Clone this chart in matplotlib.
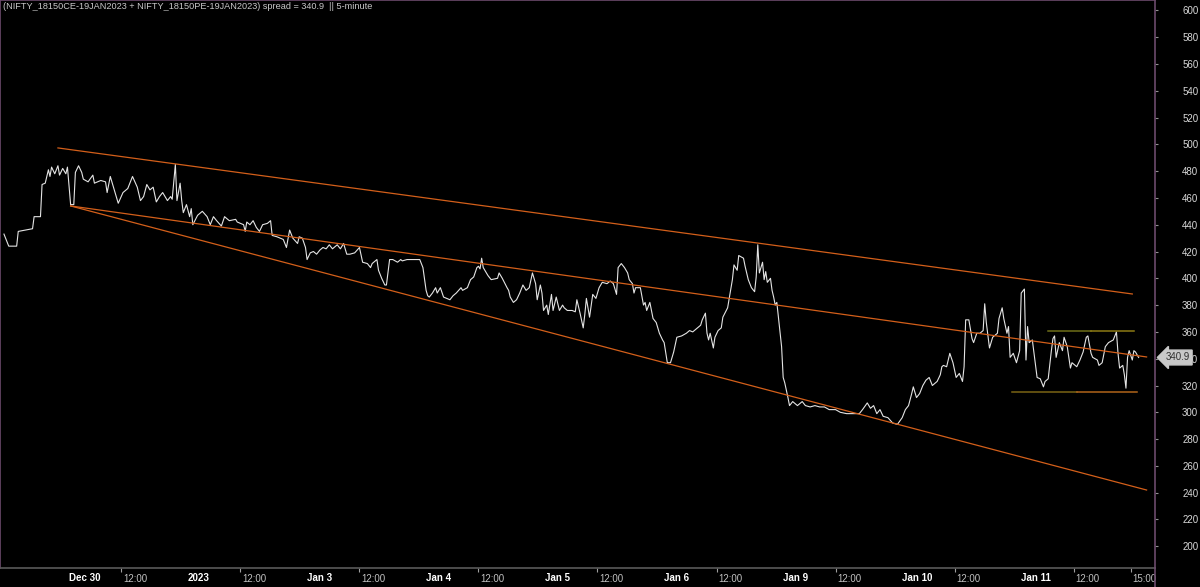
#!/usr/bin/env python3
"""Straddle spread (NIFTY 18150 CE + PE, 19JAN2023), 5-minute bars, with trend lines."""
import matplotlib

matplotlib.use("Agg")
import matplotlib.pyplot as plt
from matplotlib.lines import Line2D
from matplotlib.transforms import ScaledTranslation

plt.rcParams["font.family"] = ["Liberation Sans", "DejaVu Sans"]

TITLE = "(NIFTY_18150CE-19JAN2023 + NIFTY_18150PE-19JAN2023) spread = 340.9  || 5-minute"

# session bar index (5-min bars counted from Dec 29 09:15, 75 bars per session)
bar = [
    34, 37, 42, 43, 52, 53, 57, 58, 60, 62, 63, 64, 66, 68, 69, 71, 73, 74,
    76, 78, 79, 81, 83, 84, 87, 90, 91, 95, 98, 99, 101, 103, 106, 109, 112, 115,
    118, 120, 122, 124, 126, 128, 130, 132, 134, 137, 139, 140, 142, 143, 145, 146,
    147, 149,
    151, 152, 153, 156, 159, 162, 164, 166, 168, 171, 173, 176, 180, 181, 183, 185,
    186, 187, 189, 191, 193, 195, 197, 200, 202, 203, 206, 208, 210, 212, 214, 216,
    219, 220, 222, 224,
    225, 227, 229, 231, 233, 235, 237, 239, 241, 244, 246, 248, 250, 252, 255, 258,
    260, 263, 265, 266, 269, 270, 272, 274, 275, 277, 279, 282, 284, 285, 288, 291,
    294, 296, 298,
    300, 301, 302, 304, 306, 307, 309, 311, 313, 315, 317, 319, 322, 323, 326, 327,
    328, 330, 332, 333, 334, 335, 336, 337, 339, 341, 345, 346, 348, 351, 352, 353,
    355, 357, 359, 361, 363, 365, 367, 369, 370, 372, 373, 374,
    376, 377, 379, 380, 382, 384, 386, 387, 389, 392, 394, 395, 397, 399, 400, 401,
    403, 405, 407, 409, 411, 414, 416, 418, 420, 421, 423, 425, 427, 428, 430, 431,
    432, 435, 437, 438, 439, 441, 443, 445, 447, 449,
    450, 452, 454, 456, 458, 461, 464, 466, 468, 471, 473, 474, 476, 477, 478, 479,
    481, 482, 484, 486, 487, 490, 491, 493, 494, 496, 497, 500, 501, 503, 505, 507,
    508, 509, 510, 512, 513, 514, 515, 517, 518, 519, 520, 521, 522, 524,
    525, 526, 528, 529, 531, 532, 534, 537, 539, 542, 545, 548, 551, 554, 558, 561,
    565, 569, 573, 575, 578, 580, 582, 584, 586, 588, 591, 594, 597,
    600, 602, 604, 606, 607, 609, 611, 613, 615, 617, 619, 622, 624, 625, 626, 628,
    630, 632, 634, 636, 638, 639, 640, 642, 644, 645, 647, 649, 651, 652, 653, 655,
    657, 660, 661, 663, 664, 666, 667, 668, 670, 672, 674,
    675, 677, 678, 679, 680, 682, 685, 687, 689, 690, 692, 694, 695, 696, 697, 699,
    701, 702, 704, 706, 707, 710, 712, 714, 716, 717, 719, 720, 723, 724, 726, 728,
    730, 733, 735, 736, 737, 739, 740, 741, 742, 743, 745, 746, 747, 749,
]
spread = [
    433, 424, 424, 435, 437, 446, 446, 470, 471, 481, 476, 483, 478, 484, 477, 482, 478, 483,
    455, 455, 479, 484, 479, 474, 472, 477, 471, 473, 472, 464, 476, 468, 456, 464, 467, 476,
    468, 458, 461, 470, 466, 468, 457, 461, 464, 458, 461, 459, 485, 458, 471, 458,
    449, 455,
    446, 452, 440, 447, 450, 446, 440, 446, 443, 439, 446, 443, 444, 442, 441, 440,
    435, 442, 440, 443, 438, 435, 440, 441, 443, 432, 431, 430, 429, 423, 436, 430,
    426, 431, 430, 423,
    414, 419, 420, 418, 421, 423, 422, 425, 422, 425, 422, 426, 418, 418, 419, 423,
    412, 411, 408, 411, 414, 406, 400, 395, 395, 414, 414, 412, 414, 413, 414, 414,
    414, 414, 408,
    391, 387, 386, 389, 393, 389, 393, 386, 385, 384, 387, 389, 393, 391, 393, 396,
    399, 401, 408, 409, 407, 415, 408, 406, 402, 399, 400, 404, 400, 393, 391, 386,
    382, 384, 389, 395, 391, 393, 404, 396, 384, 395, 389, 376,
    380, 373, 388, 376, 386, 376, 380, 378, 376, 376, 375, 384, 374, 363, 373, 385,
    371, 388, 385, 393, 397, 396, 398, 396, 388, 408, 411, 408, 404, 399, 396, 389,
    393, 393, 380, 382, 376, 382, 370, 367, 359, 354,
    352, 337, 337, 345, 356, 357, 359, 361, 360, 363, 365, 369, 374, 359, 354, 359,
    348, 356, 361, 363, 371, 378, 385, 399, 410, 406, 417, 415, 409, 399, 393, 390,
    401, 425, 404, 412, 399, 405, 397, 400, 391, 386, 380, 382, 371, 349,
    326, 322, 311, 305, 308, 307, 305, 308, 305, 304, 305, 304, 304, 302, 302, 300,
    299, 299, 299, 302, 307, 303, 305, 299, 302, 297, 296, 292, 291,
    296, 302, 305, 314, 319, 311, 314, 320, 324, 326, 320, 323, 328, 334, 335, 334,
    344, 337, 326, 329, 323, 334, 369, 369, 355, 352, 359, 359, 361, 381, 367, 348,
    356, 359, 370, 378, 370, 359, 364, 341, 344, 337, 346,
    389, 392, 339, 364, 352, 354, 326, 325, 319, 323, 325, 346, 355, 357, 341, 352,
    346, 356, 349, 333, 337, 334, 339, 345, 356, 357, 344, 341, 339, 335, 337, 349,
    352, 354, 360, 344, 333, 335, 328, 318, 341, 346, 339, 346, 345, 340.9,
]

# x-axis labels
day_start = [75, 150, 225, 300, 375, 450, 525, 600, 675]
day_labels = ["Dec 30", "2023", "Jan 3", "Jan 4", "Jan 5", "Jan 6", "Jan 9", "Jan 10", "Jan 11"]
time_ticks = [108, 183, 258, 333, 408, 483, 558, 633, 708, 744]
time_labels = ["12:00"] * 9 + ["15:00"]
y_ticks = list(range(200, 601, 20))

# hand-drawn trend lines: (bar0, value0, bar1, value1)
channel_top = (68, 497.3, 745, 388.3)
channel_mid = (76, 454.0, 754, 341.3)
channel_low = (76, 454.0, 754, 242.0)
range_high = [(692, 360.5, 719, 360.5), (719, 360.5, 746, 360.5)]
range_low = [(669, 315.2, 710, 315.2), (710, 315.2, 748, 315.2)]

fig = plt.figure(figsize=(12, 5.87), dpi=100, facecolor="black")
ax = fig.add_axes([0.0, 1 - 568 / 587, 1155 / 1200, 568 / 587], facecolor="black")

ax.plot(bar, spread, color="#e4e4e4", lw=0.8, solid_joinstyle="round")

for seg in (channel_top, channel_mid, channel_low):
    ax.plot([seg[0], seg[2]], [seg[1], seg[3]], color="#d35f1a", lw=0.9)
for seg, col in zip(range_high, ["#6e6e18", "#8c7a14"]):
    ax.plot([seg[0], seg[2]], [seg[1], seg[3]], color=col, lw=1.1)
for seg, col in zip(range_low, ["#7a6414", "#b0641a"]):
    ax.plot([seg[0], seg[2]], [seg[1], seg[3]], color=col, lw=1.1)

ax.set_xlim(31.5, 759.3)
ax.set_ylim(183.8, 607.7)

# y axis on the right
ax.yaxis.tick_right()
ax.set_yticks(y_ticks)
ax.tick_params(axis="y", which="major", length=2.5, width=0.8, color="#909090",
               labelcolor="#d8d8d8", labelsize=7, pad=17)

# x axis: bold day labels, small ticked time labels
ax.set_xticks(day_start, labels=day_labels)
ax.set_xticks(time_ticks, labels=time_labels, minor=True)
ax.tick_params(axis="x", which="major", length=0, labelsize=7, labelcolor="white", pad=3.5)
ax.tick_params(axis="x", which="minor", length=3, width=0.8, color="#a0a0a0",
               labelsize=7, labelcolor="#c0c0c0", pad=1)
for lbl in ax.get_xticklabels():
    lbl.set_fontweight("bold")
    lbl.set_horizontalalignment("left")
shift = ScaledTranslation(2 / 100, 0, fig.dpi_scale_trans)
for lbl in ax.get_xticklabels(minor=True):
    lbl.set_horizontalalignment("left")
    lbl.set_transform(lbl.get_transform() + shift)

purple = "#6c4a6c"
for side in ("left", "top", "right"):
    ax.spines[side].set_color(purple)
    ax.spines[side].set_linewidth(1.2)
ax.spines["bottom"].set_color("#5a5a5a")
ax.spines["bottom"].set_linewidth(1.2)
fig.add_artist(Line2D([1155 / 1200, 1155 / 1200], [0, 1 - 568 / 587],
                      transform=fig.transFigure, color=purple, lw=1.2))

# last value marker
last = spread[-1]
ax.annotate(f"{last:.1f}", xy=(1.0, last), xycoords=ax.get_yaxis_transform(),
            xytext=(7.5, 0), textcoords="offset points", ha="left", va="center",
            fontsize=7, color="#303030", annotation_clip=False, zorder=10,
            bbox=dict(boxstyle="larrow,pad=0.25", fc="#c8c8c8", ec="#c8c8c8"))

ax.text(0.003, 0.997, TITLE, transform=ax.transAxes, ha="left", va="top",
        fontsize=6.6, color="#c8c8c8")

fig.savefig("out.png", dpi=100, facecolor="black")
